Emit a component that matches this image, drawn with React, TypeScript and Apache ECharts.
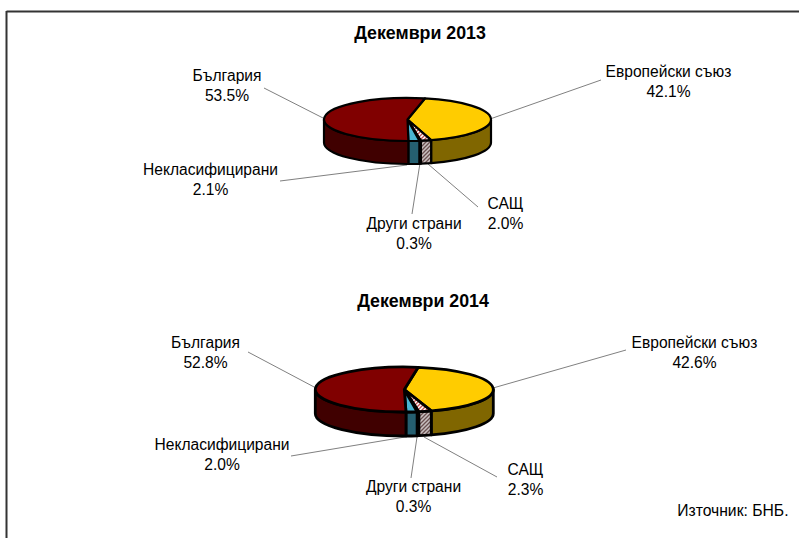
import React, { useEffect, useRef } from "react";
import * as echarts from "echarts";

const categories = ["Европейски съюз", "САЩ", "Други страни", "Некласифицирани", "България"];
const values2013 = [42.1, 2.0, 0.3, 2.1, 53.5];
const values2014 = [42.6, 2.3, 0.3, 2.0, 52.8];
const title2013 = "Декември 2013";
const title2014 = "Декември 2014";
const sourceText = "Източник: БНБ.";

const FONT = '"Liberation Sans", Arial, sans-serif';
const RED = "#800000";
const RED_SIDE = "#400000";
const YELLOW = "#FFCC00";
const YELLOW_SIDE = "#806600";
const BLUE = "#4BB4D2";
const BLUE_SIDE = "#255F70";

function hatch(bg: string, fg: string) {
  const c = document.createElement("canvas");
  c.width = 4;
  c.height = 4;
  const g = c.getContext("2d")!;
  g.fillStyle = bg;
  g.fillRect(0, 0, 4, 4);
  g.strokeStyle = fg;
  g.lineWidth = 1.3;
  g.beginPath();
  g.moveTo(-1, 5);
  g.lineTo(5, -1);
  g.moveTo(-1, 1);
  g.lineTo(1, -1);
  g.moveTo(3, 5);
  g.lineTo(5, 3);
  g.stroke();
  return { image: c, repeat: "repeat" };
}

const layout2013 = {
  cx: 407.5, cy: 119.5, rx: 83.5, ry: 21.5, depth: 23, start: 12, stroke: 2.2,
  labels: [[668.5, 81], [505.5, 213], [414, 233], [210.5, 179], [227, 85]],
  leaders: [
    [[601, 80], [490, 119]],
    [[478, 207], [428, 164]],
    [[412, 214], [420, 163]],
    [[280, 181], [407, 165]],
    [[264, 88], [325, 119]],
  ],
};
const layout2014 = {
  cx: 404.3, cy: 389.5, rx: 89, ry: 22.5, depth: 24, start: 9, stroke: 2.8,
  labels: [[694.5, 352], [525.5, 479], [413.5, 496], [222, 454], [205.5, 352]],
  leaders: [
    [[626, 350], [493, 388]],
    [[497, 477], [424, 437]],
    [[411, 478], [417, 437]],
    [[291, 456], [405, 437]],
    [[248, 352], [316, 388]],
  ],
};

function makeSeries(values: number[], L: typeof layout2013) {
  const total = values.reduce((a, b) => a + b, 0);
  const topFill = [YELLOW, hatch("#FFFFFF", "#C05050"), "#FFFFFF", BLUE, RED];
  const sideFill = [YELLOW_SIDE, hatch("#C8C0C0", "#6A5050"), "#808080", BLUE_SIDE, RED_SIDE];
  const pt = (deg: number, dy = 0) => {
    const r = (deg * Math.PI) / 180;
    return [L.cx + L.rx * Math.sin(r), L.cy - L.ry * Math.cos(r) + dy];
  };
  const renderItem = (params: any) => {
    const i = params.dataIndex;
    const before = values.slice(0, i).reduce((a, b) => a + b, 0);
    const a0 = L.start + (before / total) * 360;
    const a1 = a0 + (values[i] / total) * 360;
    const children: any[] = [];
    const [p, q] = L.leaders[i];
    children.push({
      type: "line",
      shape: { x1: p[0], y1: p[1], x2: q[0], y2: q[1] },
      style: { stroke: "#808080", lineWidth: 1 },
      z2: 1,
    });
    const s0 = Math.max(a0, 90);
    const s1 = Math.min(a1, 270);
    if (s1 > s0) {
      const A = pt(s0), B = pt(s1), C = pt(s1, L.depth), D = pt(s0, L.depth);
      const d = `M${A[0]} ${A[1]}A${L.rx} ${L.ry} 0 0 1 ${B[0]} ${B[1]}L${C[0]} ${C[1]}A${L.rx} ${L.ry} 0 0 0 ${D[0]} ${D[1]}Z`;
      children.push({
        type: "path",
        shape: { pathData: d },
        style: { fill: sideFill[i], stroke: "#000", lineWidth: L.stroke, lineJoin: "round" },
        z2: 2,
      });
    }
    const A = pt(a0), B = pt(a1);
    const large = a1 - a0 > 180 ? 1 : 0;
    const d = `M${L.cx} ${L.cy}L${A[0]} ${A[1]}A${L.rx} ${L.ry} 0 ${large} 1 ${B[0]} ${B[1]}Z`;
    children.push({
      type: "path",
      shape: { pathData: d },
      style: { fill: topFill[i], stroke: "#000", lineWidth: L.stroke, lineJoin: "round" },
      z2: 3,
    });
    children.push({
      type: "text",
      x: L.labels[i][0],
      y: L.labels[i][1],
      style: {
        text: `${categories[i]}\n${values[i].toFixed(1)}%`,
        font: `15.6px ${FONT}`,
        lineHeight: 20,
        fill: "#000",
        align: "center",
        verticalAlign: "middle",
      },
      z2: 4,
    });
    return { type: "group", children };
  };
  return {
    type: "custom",
    coordinateSystem: "none",
    silent: true,
    renderItem,
    data: values,
  };
}

export default function App() {
  const ref = useRef<HTMLDivElement>(null);
  useEffect(() => {
    document.body.style.margin = "0";
    const chart = echarts.init(ref.current!, null, { renderer: "svg" });
    chart.setOption({
      animation: false,
      backgroundColor: "#fff",
      series: [makeSeries(values2013, layout2013), makeSeries(values2014, layout2014)],
      graphic: [
        { type: "line", shape: { x1: 6.5, y1: 11.5, x2: 799, y2: 11.5 }, style: { stroke: "#333", lineWidth: 2 } },
        { type: "line", shape: { x1: 6.5, y1: 11, x2: 6.5, y2: 538 }, style: { stroke: "#333", lineWidth: 2 } },
        { type: "text", x: 420, y: 33, style: { text: title2013, font: `bold 17.8px ${FONT}`, fill: "#000", align: "center", verticalAlign: "middle" } },
        { type: "text", x: 423, y: 301, style: { text: title2014, font: `bold 17.8px ${FONT}`, fill: "#000", align: "center", verticalAlign: "middle" } },
        { type: "text", x: 788.5, y: 510, style: { text: sourceText, font: `15.7px ${FONT}`, fill: "#000", align: "right", verticalAlign: "middle" } },
      ],
    });
    return () => chart.dispose();
  }, []);
  return <div ref={ref} style={{ width: 799, height: 538 }} />;
}
